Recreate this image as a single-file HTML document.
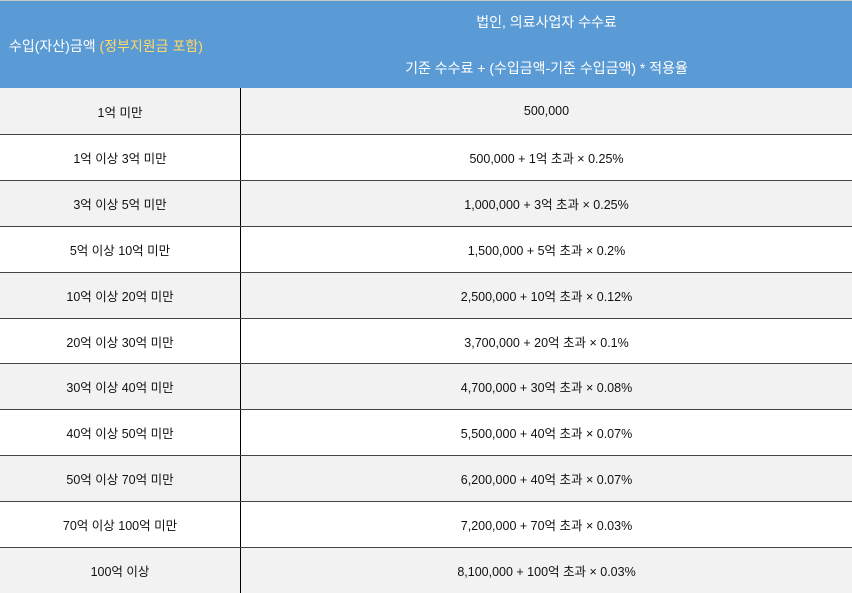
<!DOCTYPE html>
<html><head><meta charset="utf-8"><style>
body{margin:0;width:852px;height:593px;overflow:hidden;background:#fff;font-family:"Liberation Sans","Noto Sans CJK KR",sans-serif;}
#t{position:absolute;left:0;top:0;width:852px;height:593px;}
.h{position:absolute;top:0;height:88px;background:#5b9bd5;color:#fff;font-size:14px;border-top:1px solid #c8c8c8;box-sizing:border-box;}
.r{position:absolute;left:0;width:852px;border-top:1px solid #444;box-sizing:border-box;font-size:12.5px;color:#111;}
.c{position:absolute;top:0;bottom:0;display:flex;align-items:center;justify-content:center;}
.c1{left:0;width:240px;border-right:1px solid #000;}
.c2{left:241px;right:0;}
</style></head><body>
<div id="t">
<div class="h" style="left:0;width:241px;"><div style="position:absolute;left:9px;top:35px;">수입(자산)금액 <span style="color:#ffd966">(정부지원금 포함)</span></div></div>
<div class="h" style="left:241px;width:611px;">
<div style="position:absolute;left:0;right:0;top:11px;text-align:center;">법인, 의료사업자 수수료</div>
<div style="position:absolute;left:0;right:0;top:57px;text-align:center;">기준 수수료 + (수입금액-기준 수입금액) * 적용율</div></div>
</div>
<script>
const ranges=["1억 미만","1억 이상 3억 미만","3억 이상 5억 미만","5억 이상 10억 미만","10억 이상 20억 미만","20억 이상 30억 미만","30억 이상 40억 미만","40억 이상 50억 미만","50억 이상 70억 미만","70억 이상 100억 미만","100억 이상"];
const fees=["500,000","500,000 + 1억 초과 × 0.25%","1,000,000 + 3억 초과 × 0.25%","1,500,000 + 5억 초과 × 0.2%","2,500,000 + 10억 초과 × 0.12%","3,700,000 + 20억 초과 × 0.1%","4,700,000 + 30억 초과 × 0.08%","5,500,000 + 40억 초과 × 0.07%","6,200,000 + 40억 초과 × 0.07%","7,200,000 + 70억 초과 × 0.03%","8,100,000 + 100억 초과 × 0.03%"];
const t=document.getElementById('t');
const step=(593-88)/11;
ranges.forEach((rg,i)=>{
const r=document.createElement('div');
r.className='r';


const top=Math.round(88+i*step);
const bot=Math.round(88+(i+1)*step);
r.style.top=top+'px';r.style.height=(bot-top)+'px';
r.style.background=i%2==0?'#f2f2f2':'#fff';
if(i==0)r.style.borderTop='none';
const a=document.createElement('div');
a.className='c c1';


a.textContent=rg;
const b=document.createElement('div');
b.className='c c2';


b.textContent=fees[i];
r.appendChild(a);r.appendChild(b);t.appendChild(r);
});
</script>
</body></html>
